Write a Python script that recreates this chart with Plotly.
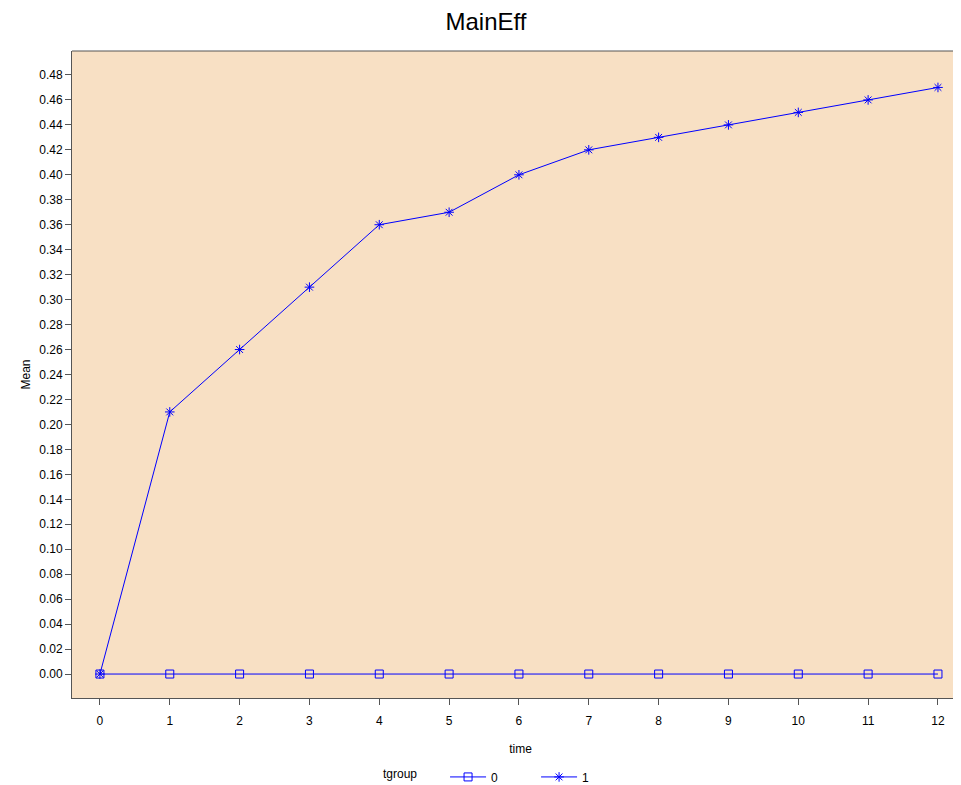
import plotly.graph_objects as go

time = list(range(13))
mean_g0 = [0.00] * 13
mean_g1 = [0.00, 0.21, 0.26, 0.31, 0.36, 0.37, 0.40, 0.42, 0.43, 0.44, 0.45, 0.46, 0.47]
y_ticks = [round(0.02 * i, 2) for i in range(25)]
y_tick_labels = [f"{v:.2f}" for v in y_ticks]

FONT = "Liberation Sans, Arial, sans-serif"
BLUE = "#0000FF"
AXIS = "#555555"

fig = go.Figure()
fig.add_trace(go.Scatter(
    x=time, y=mean_g0, name="0          ", mode="lines+markers",
    line=dict(color=BLUE, width=1),
    marker=dict(symbol="square-open", size=8, color=BLUE, line=dict(width=1, color=BLUE)),
))
fig.add_trace(go.Scatter(
    x=time, y=mean_g1, name="1", mode="lines+markers",
    line=dict(color=BLUE, width=1),
    marker=dict(symbol="asterisk-open", size=8, color=BLUE, line=dict(width=1, color=BLUE)),
))

fig.update_layout(
    width=961, height=777,
    margin=dict(l=64, r=0, t=43, b=87, autoexpand=False),
    paper_bgcolor="white",
    plot_bgcolor="#F8E0C4",
    font=dict(family=FONT, size=12, color="black"),
    title=dict(text="MainEff", x=0.4974, xref="container", xanchor="center",
               y=0.982, yanchor="middle",
               font=dict(family=FONT, size=24, color="black")),
    showlegend=True,
    legend=dict(orientation="h", x=0.3445, xanchor="left", y=-0.122, yanchor="middle",
                title=dict(text="tgroup      ", font=dict(size=12)),
                font=dict(size=12), bgcolor="rgba(0,0,0,0)", itemwidth=36),
    xaxis=dict(
        range=[-0.4, (969 - 100) / 69.83],
        tickmode="array", tickvals=time, ticktext=[str(t) for t in time],
        ticks="outside", ticklen=6, tickcolor=AXIS, tickwidth=1, ticklabelstandoff=6,
        showgrid=False, zeroline=False, automargin=False,
        showline=True, linecolor=AXIS, linewidth=1, mirror=False,
        title=dict(text="time", standoff=17, font=dict(size=12)),
    ),
    yaxis=dict(
        range=[-0.0192, 0.4992],
        tickmode="array", tickvals=y_ticks, ticktext=y_tick_labels,
        ticks="outside", ticklen=6, tickcolor=AXIS, tickwidth=1,
        showgrid=False, zeroline=False, automargin=False,
        showline=True, linecolor=AXIS, linewidth=1,
        title=dict(text="Mean", standoff=6, font=dict(size=12)),
    ),
)
fig.add_shape(type="line", xref="paper", yref="paper", x0=0, x1=1.01, y0=1, y1=1,
              line=dict(color=AXIS, width=1))
fig.write_html("out.html")
